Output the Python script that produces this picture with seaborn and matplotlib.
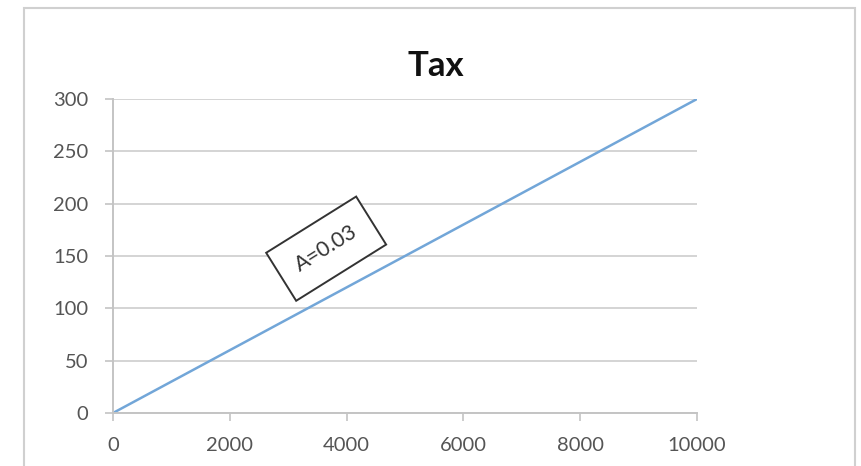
import pandas as pd
import seaborn as sns
import matplotlib.pyplot as plt
from matplotlib.patches import Rectangle

income = [0, 10000]
tax = [0, 300]
x_ticks = [0, 2000, 4000, 6000, 8000, 10000]
y_ticks = [0, 50, 100, 150, 200, 250, 300]
label = "A=0.03"

df = pd.DataFrame({"income": income, "tax": tax})

sns.set_theme(style="white")
plt.rcParams["font.family"] = ["Lato", "DejaVu Sans"]

fig = plt.figure(figsize=(8.62, 4.66), dpi=100)
# chart border like the spreadsheet frame
fig.patches.append(Rectangle((24 / 862, -0.05), 831 / 862, 1.05 - 8 / 466,
                             transform=fig.transFigure, fill=False,
                             edgecolor="#d0d0d0", linewidth=1.5))

ax = fig.add_axes([113 / 862, 1 - 413 / 466, 584 / 862, 314 / 466])
sns.lineplot(data=df, x="income", y="tax", ax=ax, color="#72a6d8", linewidth=1.8)

ax.set_xlim(0, 10000)
ax.set_ylim(0, 300)
ax.set_xticks(x_ticks)
ax.set_yticks(y_ticks)
ax.set_xlabel("")
ax.set_ylabel("")
ax.yaxis.grid(True, color="#d4d4d4", linewidth=1.4)
ax.set_axisbelow(True)
for s in ["top", "right"]:
    ax.spines[s].set_visible(False)
for s in ["left", "bottom"]:
    ax.spines[s].set_color("#c4c4c4")
    ax.spines[s].set_linewidth(1.4)
ax.tick_params(axis="y", length=6, width=1.2, color="#c4c4c4", pad=12,
               labelsize=14.5, labelcolor="#555555", left=True)
ax.tick_params(axis="x", length=6, width=1.2, color="#c4c4c4", pad=11,
               labelsize=14.5, labelcolor="#555555", bottom=True)

fig.text(436 / 862, 1 - 66 / 466, "Tax", ha="center", va="center",
         fontsize=25, fontweight="bold", color="#111111")

ax.text(3650, 157, label, rotation=32, ha="center", va="center",
        fontsize=15.5, color="#333333", rotation_mode="anchor",
        bbox=dict(boxstyle="square,pad=0.85", facecolor="white",
                  edgecolor="#333333", linewidth=1.4))

fig.savefig("out.png", dpi=100)
